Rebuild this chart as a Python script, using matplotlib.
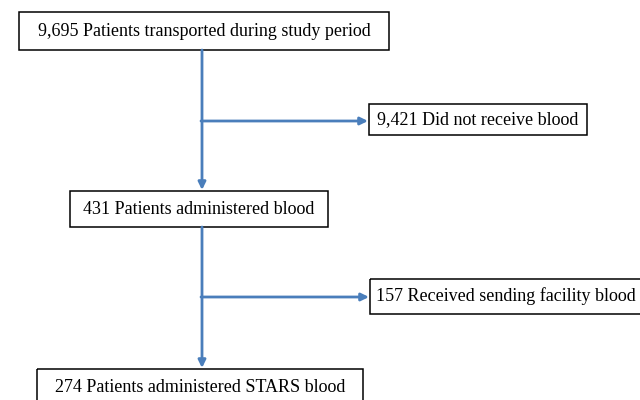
import matplotlib.pyplot as plt

# flowchart content
counts = [9695, 9421, 431, 157, 274]
labels = ["Patients transported during study period",
          "Did not receive blood",
          "Patients administered blood",
          "Received sending facility blood",
          "Patients administered STARS blood"]

# box layout in pixel coords: (left, top, right, bottom)
boxes = [(19, 12, 389, 50),
         (369, 104, 587, 135),
         (70, 191, 328, 227),
         (370, 279, 660, 314),
         (37, 369, 363, 420)]

blue = '#4a7ebb'

fig = plt.figure(figsize=(6.4, 4), dpi=100)
ax = fig.add_axes([0, 0, 1, 1])
ax.set_xlim(0, 640)
ax.set_ylim(400, 0)
ax.axis('off')

plt.rcParams['font.family'] = ['Liberation Serif', 'DejaVu Serif']

for n, lab, (l, t, r, b) in zip(counts, labels, boxes):
    ax.add_patch(plt.Rectangle((l, t), r - l, b - t, fill=False,
                               edgecolor='black', linewidth=1.1))
    ty = (t + b) / 2 if b <= 400 else t + 18
    tx = (l + r) / 2 if r <= 640 else l + 6
    ha = 'center' if r <= 640 else 'left'
    ax.text(tx, ty, f"{n:,} {lab}", ha=ha, va='center', fontsize=13)

def arrow(x0, y0, x1, y1):
    ax.annotate('', xy=(x1, y1), xytext=(x0, y0),
                arrowprops=dict(arrowstyle='-|>,head_length=0.45,head_width=0.22',
                                color=blue, lw=2, shrinkA=0, shrinkB=0))

# main trunk
arrow(202, 50, 202, 190)
arrow(202, 227, 202, 368)
# side branches
arrow(201, 121, 368, 121)
arrow(201, 297, 369, 297)

plt.savefig('out.png')
